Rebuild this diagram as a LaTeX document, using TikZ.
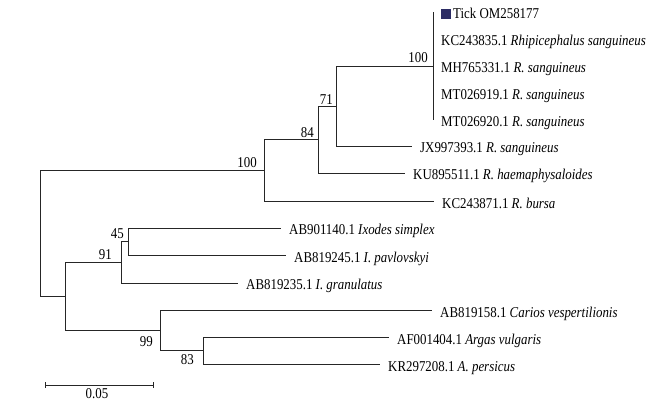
\documentclass[tikz,border=0pt]{standalone}
\usepackage{fontspec}
\setmainfont{Liberation Serif}[FakeStretch=0.86]
\definecolor{tickblue}{RGB}{44,44,100}
\begin{document}
\begin{tikzpicture}[x=1pt,y=-1pt,
  br/.style={draw=black!85, line width=0.9pt},
  leaf/.style={anchor=base west, inner sep=0pt, xshift=8pt, yshift=-7pt, font=\fontsize{15}{18}\selectfont},
  bs/.style={anchor=base east, inner sep=0pt, font=\fontsize{15}{18}\selectfont}]
\useasboundingbox (0,0) rectangle (654,401);
% internal nodes
\coordinate (root) at (40,233.25);
\coordinate (A) at (264,170.25);
\coordinate (B) at (318,139.5);
\coordinate (C) at (336,106);
\coordinate (D) at (433,66);
\coordinate (E) at (65,296.25);
\coordinate (F) at (121,262.25);
\coordinate (G) at (128,241.5);
\coordinate (H) at (160,330.25);
\coordinate (I) at (203,350.5);
% leaf tips
\coordinate (t0) at (433,12);
\coordinate (t1) at (433,39);
\coordinate (t2) at (433,66);
\coordinate (t3) at (433,93);
\coordinate (t4) at (433,120);
\coordinate (t5) at (412,146);
\coordinate (t6) at (405,173);
\coordinate (t7) at (434,201);
\coordinate (t8) at (281,228);
\coordinate (t9) at (286,255);
\coordinate (t10) at (238,283);
\coordinate (t11) at (432,310);
\coordinate (t12) at (389,337);
\coordinate (t13) at (380,364);
% branches
\draw[br] (root) |- (A);
\draw[br] (root) |- (E);
\draw[br] (A) |- (B);
\draw[br] (A) |- (t7);
\draw[br] (B) |- (C);
\draw[br] (B) |- (t6);
\draw[br] (C) |- (D);
\draw[br] (C) |- (t5);
\draw[br] (D) |- (t0);
\draw[br] (D) |- (t4);
\draw[br] (E) |- (F);
\draw[br] (E) |- (H);
\draw[br] (F) |- (G);
\draw[br] (F) |- (t10);
\draw[br] (G) |- (t8);
\draw[br] (G) |- (t9);
\draw[br] (H) |- (t11);
\draw[br] (H) |- (I);
\draw[br] (I) |- (t12);
\draw[br] (I) |- (t13);
% leaf labels
\node[leaf] (l0) at (t0) {\textcolor{tickblue}{\rule{10pt}{10pt}}\hspace{2pt}Tick OM258177};
\node[leaf] (l1) at (t1) {KC243835.1 \textit{Rhipicephalus sanguineus}};
\node[leaf] (l2) at (t2) {MH765331.1 \textit{R. sanguineus}};
\node[leaf] (l3) at (t3) {MT026919.1 \textit{R. sanguineus}};
\node[leaf] (l4) at (t4) {MT026920.1 \textit{R. sanguineus}};
\node[leaf] (l5) at (t5) {JX997393.1 \textit{R. sanguineus}};
\node[leaf] (l6) at (t6) {KU895511.1 \textit{R. haemaphysaloides}};
\node[leaf] (l7) at (t7) {KC243871.1 \textit{R. bursa}};
\node[leaf] (l8) at (t8) {AB901140.1 \textit{Ixodes simplex}};
\node[leaf] (l9) at (t9) {AB819245.1 \textit{I. pavlovskyi}};
\node[leaf] (l10) at (t10) {AB819235.1 \textit{I. granulatus}};
\node[leaf] (l11) at (t11) {AB819158.1 \textit{Carios vespertilionis}};
\node[leaf] (l12) at (t12) {AF001404.1 \textit{Argas vulgaris}};
\node[leaf] (l13) at (t13) {KR297208.1 \textit{A. persicus}};
% bootstrap values
\node[bs] (bA) at ([xshift=-7pt,yshift=3pt]A) {100};
\node[bs] (bB) at ([xshift=-4pt,yshift=1.5pt]B) {84};
\node[bs] (bC) at ([xshift=-3pt,yshift=1pt]C) {71};
\node[bs] (bD) at ([xshift=-5pt,yshift=3pt]D) {100};
\node[bs] (bF) at ([xshift=-9pt,yshift=3pt]F) {91};
\node[bs] (bG) at ([xshift=-4pt,yshift=2.5pt]G) {45};
\node[bs] (bH) at ([xshift=-7pt,yshift=-16pt]H) {99};
\node[bs] (bI) at ([xshift=-9pt,yshift=-13.5pt]I) {83};
% scale bar
\coordinate (sL) at (45,385);
\coordinate (sR) at (153,385);
\draw[br] (sL) -- (sR);
\draw[br] ([yshift=3pt]sL) -- ([yshift=-3pt]sL);
\draw[br] ([yshift=3pt]sR) -- ([yshift=-3pt]sR);
\node[anchor=base, inner sep=0pt, font=\fontsize{15}{18}\selectfont] (sc) at (97,398) {0.05};
\end{tikzpicture}
\end{document}
